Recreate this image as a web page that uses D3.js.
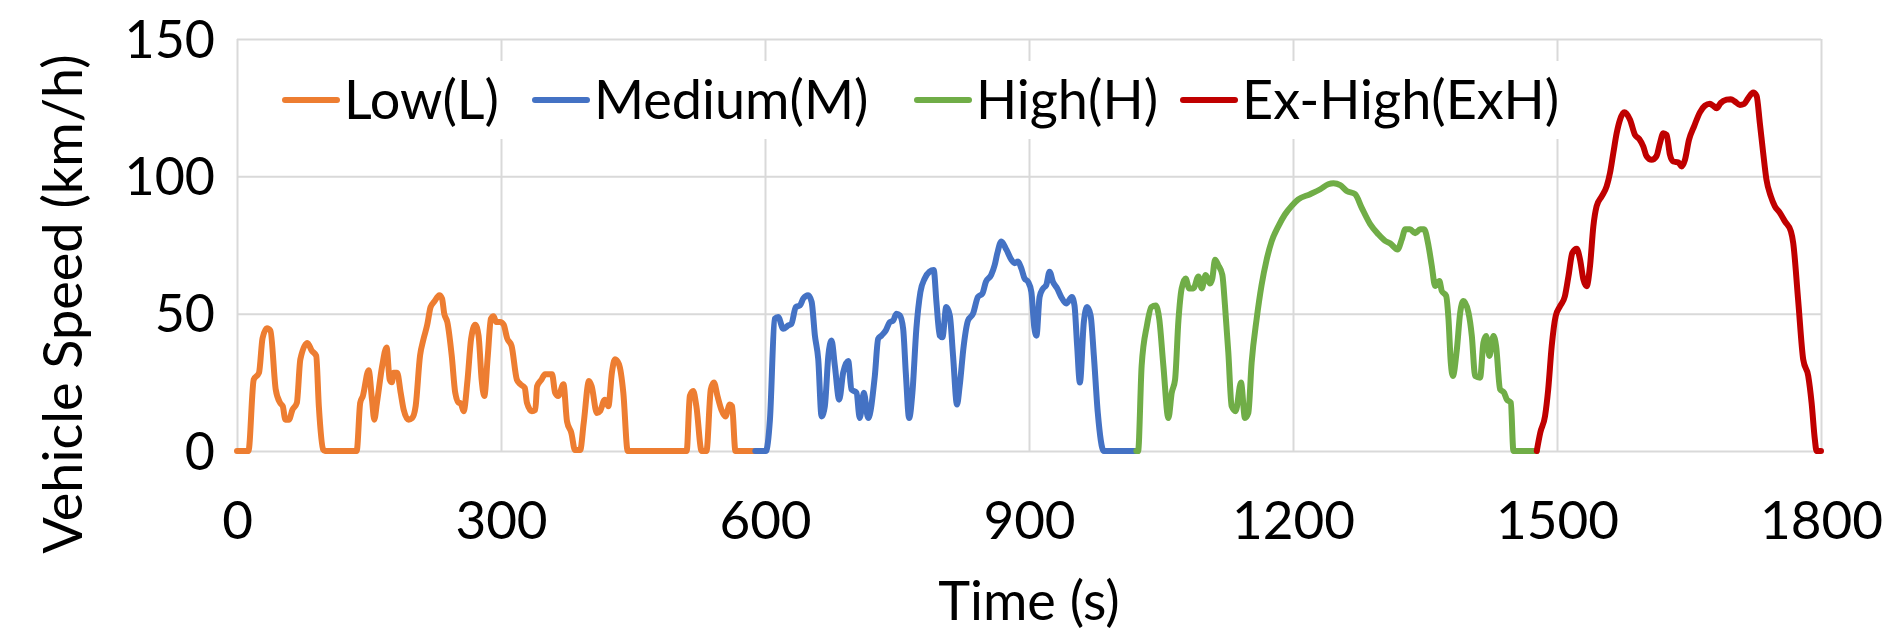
<!DOCTYPE html>
<html>
<head>
<meta charset="utf-8">
<script src="https://cdn.jsdelivr.net/npm/d3@7"></script>
<style>
  body { margin: 0; background: #fff; }
  text { font-family: Lato, "Open Sans", sans-serif; fill: #000; }
</style>
</head>
<body>
<svg id="chart" width="1884" height="637"></svg>
<script>
// phase names + colours (excel default palette)
var phaseNames = ["Low(L)", "Medium(M)", "High(H)", "Ex-High(ExH)"];
var phaseColors = ["#ED7D31", "#4472C4", "#70AD47", "#C00000"];

// [time s, speed km/h]
var lowData = [[0,0],[13,0],[19,26],[25,28.5],[29,41],[34,44.7],[38,43.8],[44,22.4],[49,17.5],[52,16.3],[55,11.4],[59,11.4],[63,15],[68,17.5],[72,33.4],[80,39.3],[85,36.5],[90,34.7],[93,16.3],[98,0.5],[100,0],[136,0],[140,17.5],[143,20],[149.6,29.4],[153.4,18.7],[156,11.4],[159,17.5],[165,31],[170,37.7],[173.5,26],[176,25],[178,28.5],[182,28.5],[186,21.2],[189.4,15],[195,11.4],[199,12],[203,16.3],[208,34.7],[212,40.8],[216,45.7],[220,52.4],[224,54.3],[230,56.7],[233,55.5],[235.5,50],[239,46.9],[244,34.7],[248,21.2],[252,17.5],[254,17.5],[257.5,14.5],[262,26],[266,40.8],[270.7,46],[274.5,42],[278,26],[281,20],[285,34.7],[288.5,48.1],[291.5,49.1],[294.5,47],[299,47],[303,46],[307,41],[312,38.3],[318,26],[322,24.3],[327,23],[329.5,17.5],[335,14.5],[339,15],[341,23.6],[346,26],[350,27.9],[358,27.9],[361.5,21.2],[365,20],[371,24.3],[375,10.8],[380,6.5],[384,0.4],[390,0.4],[394,10.2],[400,25.5],[403,23.6],[409,13.8],[412.5,14.5],[418,18.7],[422,16.3],[426,28.5],[429.5,33.4],[434,31.6],[439,21.2],[444,0],[511,0],[514.6,20],[518.4,21.8],[522,16.3],[528,0],[533.5,0],[538.4,22.4],[542,24.9],[546,20],[550.5,15],[555,12.6],[560,16.9],[562.6,16.3],[566.4,0],[589,0]];

var mediumData = [[589,0],[601,0],[605.6,11.4],[611,48.1],[615,48.8],[620.7,44.5],[626.4,45.7],[630,46.3],[635,52.4],[639.7,53],[643.5,55.5],[649,56.7],[653,54.3],[656.7,42],[660.5,33.4],[664.3,12.6],[668,16.3],[672,34.7],[675.6,40.2],[679.4,31],[684.3,18.7],[688.8,28.5],[694.5,32.8],[698.3,22.4],[704,21.2],[707.7,12],[712.3,21.2],[717.2,12],[724.8,27.3],[728.6,40.8],[732.3,42],[737.3,43.9],[741.8,46.9],[745.6,47.5],[749.4,50],[753.2,49.4],[757,44.5],[760,28.5],[763.8,12],[767.5,21.2],[772,44.5],[776.6,57.9],[781.5,62.8],[787,65.3],[791.7,65.9],[794.8,54.3],[798.6,42],[801.6,41.4],[806,52.4],[810,49.4],[813.7,34.7],[818.2,16.9],[821.2,23.6],[825.8,38.3],[830.7,47.5],[836.4,50],[842,56.1],[847,57.3],[851,61.6],[857,64.1],[861,67.7],[864,72],[868.6,76.3],[874.3,73.3],[880,69.6],[883.7,68.4],[887.5,69],[891.3,66.5],[895,62.8],[899,61.6],[902.7,57.9],[906,45],[908.5,42],[912,56],[916,59.2],[919.6,60.4],[923.4,65.3],[927.2,61.6],[932,59.2],[936.6,56.1],[942.3,53.7],[948.7,56.1],[951.7,53],[954.7,38.3],[957.8,24.9],[962.3,46.9],[966,52.4],[970,49.4],[973.7,34.7],[978.2,13.8],[985,0],[1022,0]];

var highData = [[1022,0],[1024,0],[1028,31],[1034,45.7],[1039,52.4],[1044,53],[1048,48.1],[1052.7,31],[1058.4,12],[1062.2,21.2],[1066,26],[1069.8,47.5],[1073.5,59.2],[1078,62.8],[1082,59.2],[1086.8,59.2],[1092.5,63.5],[1096.3,59.2],[1100.8,64.1],[1105.7,61],[1108.3,62.8],[1111.4,69.6],[1115,67.7],[1119.7,64.1],[1122.7,53],[1126.5,35.9],[1130.3,16.3],[1134.8,14.5],[1140.9,24.9],[1145.4,12],[1149.2,13.8],[1153,32.2],[1158.7,48.1],[1164.3,60.4],[1170,69.6],[1175.7,76.3],[1183.3,81.8],[1190.8,86.1],[1198.4,89.2],[1206,91.6],[1219.5,93.5],[1231,95.3],[1240,97.1],[1246,97.5],[1253.6,96.8],[1261,94.7],[1270.6,93.5],[1278,88.6],[1287.7,82.6],[1297,78.9],[1304.7,76.5],[1310.4,75.6],[1318.8,73.4],[1323.7,77.1],[1327.5,80.7],[1333,80.7],[1338.8,79.3],[1344.5,80.7],[1349,80.7],[1354,74.7],[1357.7,67.4],[1361.5,60.1],[1366.4,61.9],[1369,58.3],[1374,56.5],[1376.7,48],[1379.3,32.2],[1381.6,27.3],[1386.2,37],[1390,50.4],[1393.7,54.6],[1399.4,50.4],[1403.2,41.9],[1407,27.3],[1412.6,26.7],[1416.4,39.5],[1419.5,41.9],[1423.2,34.6],[1427.8,41.9],[1430.8,38.2],[1435.3,22.5],[1439.9,21.2],[1442.9,18.8],[1447.5,17.6],[1450.5,0],[1477,0]];

var exHighData = [[1477,0],[1481,6.7],[1486.4,12.7],[1490,22.4],[1494,38.2],[1498.5,49.1],[1503.4,52.7],[1509,56.4],[1513,63.6],[1517.4,72.1],[1522.4,73.6],[1526.2,69.7],[1530,62.4],[1533.7,60],[1537.5,67.3],[1541.3,81.8],[1545,89.1],[1550.8,92.7],[1556.5,96.4],[1560.2,101.2],[1564,108.5],[1567.8,115.7],[1571.6,120.6],[1576.5,123.3],[1583,120.6],[1588.6,115.1],[1593.5,113.6],[1598,110.9],[1601.8,107.3],[1607.5,106],[1613,107.3],[1617,112.1],[1620.8,115.7],[1624.6,115.1],[1628.3,107.9],[1632,105.4],[1637.8,105.1],[1641.6,103.6],[1645.4,106],[1650,113.3],[1656,118.4],[1662.4,123.3],[1668,125.7],[1673.8,126.4],[1677.5,125.7],[1681.3,124.8],[1686,126.7],[1692.7,127.9],[1697.6,128.1],[1702,127.3],[1707.8,126],[1712.7,126.4],[1717.3,128.5],[1723,130.5],[1726.8,129.3],[1730.5,119.4],[1734.3,108.5],[1738,98.8],[1743,92.7],[1747.6,89.1],[1753.3,86.7],[1759,83.6],[1765.8,80],[1768.4,75.8],[1774,55.1],[1779.8,33.3],[1785.5,27.3],[1789.3,17.6],[1793,4.2],[1795,0],[1800,0]];

var xTicks = [0, 300, 600, 900, 1200, 1500, 1800];
var yTicks = [0, 50, 100, 150];

var svg = d3.select("#chart");
var margin = {top: 39, right: 63, bottom: 186, left: 237};
var width = +svg.attr("width") - margin.left - margin.right,
    height = +svg.attr("height") - margin.top - margin.bottom;

var g = svg.append("g")
  .attr("transform", "translate(" + margin.left + "," + margin.top + ")");

var x = d3.scaleLinear().domain([0, 1800]).range([0, width]);
var y = d3.scaleLinear().domain([0, 150]).range([height, 0]);

// gridlines both ways
g.append("g")
  .call(d3.axisBottom(x).tickValues(xTicks).tickSize(-height).tickFormat(""))
  .attr("transform", "translate(0," + height + ")")
  .call(function(a) { a.select(".domain").remove(); })
  .selectAll("line").attr("stroke", "#d9d9d9").attr("stroke-width", 2);

g.append("g")
  .call(d3.axisLeft(y).tickValues(yTicks).tickSize(-width).tickFormat(""))
  .call(function(a) { a.select(".domain").remove(); })
  .selectAll("line").attr("stroke", "#d9d9d9").attr("stroke-width", 2);

// tick labels
var xAxis = g.append("g")
  .attr("transform", "translate(0," + height + ")")
  .call(d3.axisBottom(x).tickValues(xTicks).tickSize(0).tickPadding(50).tickFormat(d3.format("d")));
xAxis.select(".domain").remove();
xAxis.selectAll("text").attr("font-size", 53).attr("font-family", "Lato").attr("fill", "#000");

var yAxis = g.append("g")
  .call(d3.axisLeft(y).tickValues(yTicks).tickSize(0).tickPadding(22).tickFormat(d3.format("d")));
yAxis.select(".domain").remove();
yAxis.selectAll("text").attr("font-size", 52).attr("font-family", "Lato").attr("fill", "#000").attr("dy", "0.35em");

// axis titles
svg.append("text")
  .attr("x", margin.left + width / 2)
  .attr("y", 620)
  .attr("text-anchor", "middle")
  .attr("font-size", 54)
  .text("Time (s)");

svg.append("text")
  .attr("transform", "translate(82,304) rotate(-90)")
  .attr("text-anchor", "middle")
  .attr("font-size", 54)
  .text("Vehicle Speed (km/h)");

// the four phases
var line = d3.line()
  .x(function(d) { return x(d[0]); })
  .y(function(d) { return y(d[1]); })
  .curve(d3.curveMonotoneX);

var phases = [lowData, mediumData, highData, exHighData];
g.selectAll(".phase")
  .data(phases)
  .enter().append("path")
    .attr("class", "phase")
    .attr("d", line)
    .attr("fill", "none")
    .attr("stroke", function(d, i) { return phaseColors[i]; })
    .attr("stroke-width", 6)
    .attr("stroke-linejoin", "round")
    .attr("stroke-linecap", "round");

// legend, white box over gridlines
var legendX = [48, 298, 680, 946];
var legend = svg.append("g").attr("transform", "translate(" + margin.left + ",0)");
legend.append("rect")
  .attr("x", 30).attr("y", 61)
  .attr("width", 1310).attr("height", 78)
  .attr("fill", "#fff");

var item = legend.selectAll(".item")
  .data(phaseNames)
  .enter().append("g")
    .attr("class", "item")
    .attr("transform", function(d, i) { return "translate(" + legendX[i] + ",100)"; });

item.append("line")
  .attr("x1", 0).attr("x2", 52)
  .attr("stroke", function(d, i) { return phaseColors[i]; })
  .attr("stroke-width", 6)
  .attr("stroke-linecap", "round");

item.append("text")
  .attr("x", 59)
  .attr("dy", "0.36em")
  .attr("font-size", 54)
  .text(function(d) { return d; });
</script>
</body>
</html>
